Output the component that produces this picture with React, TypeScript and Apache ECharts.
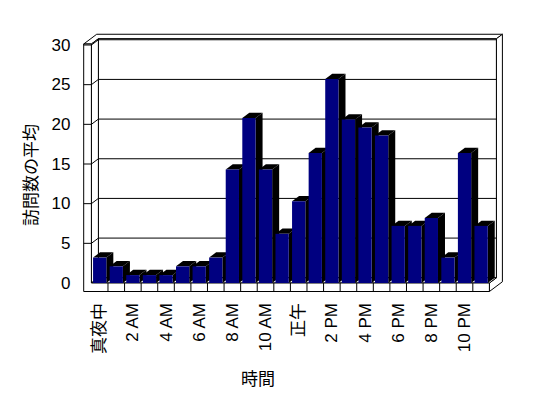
import React, { useEffect, useRef } from "react";
import * as echarts from "echarts";

const categories = [
  "真夜中", "1 AM", "2 AM", "3 AM", "4 AM", "5 AM", "6 AM", "7 AM",
  "8 AM", "9 AM", "10 AM", "11 AM", "正午", "1 PM", "2 PM", "3 PM",
  "4 PM", "5 PM", "6 PM", "7 PM", "8 PM", "9 PM", "10 PM", "11 PM",
];
const visits = [
  3.2, 2.1, 1.0, 1.0, 1.0, 2.1, 2.1, 3.2, 14.3, 20.8, 14.3, 6.2,
  10.3, 16.4, 25.7, 20.6, 19.6, 18.6, 7.2, 7.2, 8.2, 3.2, 16.4, 7.2,
];
const yTicks = [0, 5, 10, 15, 20, 25, 30];
const yTitle = "訪問数の平均";
const xTitle = "時間";

const KX = 1;
const KY = 0.75;
const ZB = 7;
const ZO = 13;
const P = (x: number, y: number, z: number) => [x + z * KX, y - z * KY];

export default function App() {
  const ref = useRef<HTMLDivElement>(null);
  useEffect(() => {
    document.body.style.margin = "0";
    document.body.style.overflow = "hidden";
    const chart = echarts.init(ref.current!, undefined, { renderer: "svg" });
    const line = { stroke: "#000", lineWidth: 1, fill: "#fff" };
    const option: any = {
      animation: false,
      backgroundColor: "#fff",
      grid: { left: 91.4, right: 58.6, top: 45, bottom: 115 },
      xAxis: {
        type: "category",
        data: categories,
        axisLine: { show: false },
        axisTick: { show: false },
        splitLine: { show: false },
        axisLabel: {
          interval: 1,
          rotate: 90,
          margin: 20,
          color: "#000",
          fontSize: 17,
          fontFamily: "'Liberation Sans', 'Noto Sans CJK JP', sans-serif",
        },
      },
      yAxis: {
        type: "value",
        min: 0,
        max: 30,
        interval: 5,
        axisLine: { show: false },
        axisTick: { show: false },
        splitLine: { show: false },
        axisLabel: {
          margin: 21,
          color: "#000",
          fontSize: 17,
          fontFamily: "'Liberation Sans', sans-serif",
        },
      },
      graphic: [
        {
          type: "text",
          x: 29,
          y: 175,
          rotation: Math.PI / 2,
          style: {
            text: yTitle,
            fontSize: 17,
            fontFamily: "'Noto Sans CJK JP', sans-serif",
            fill: "#000",
            align: "center",
            verticalAlign: "middle",
          },
        },
        {
          type: "text",
          x: 258,
          y: 377,
          style: {
            text: xTitle,
            fontSize: 17,
            fontFamily: "'Noto Sans CJK JP', sans-serif",
            fill: "#000",
            align: "center",
            verticalAlign: "middle",
          },
        },
      ],
      series: [
        {
          type: "custom",
          z: 1,
          clip: false,
          silent: true,
          data: [[0, 0]],
          encode: { x: 0, y: 1 },
          renderItem: (params: any, api: any) => {
            const band = api.size([1, 0])[0];
            const c0 = api.coord([0, 0]);
            const cN = api.coord([categories.length - 1, 0]);
            const x0 = c0[0] - band / 2;
            const x1 = cN[0] + band / 2;
            const y0 = c0[1];
            const y30 = api.coord([0, 30])[1];
            const xL = x0 - 7.7;
            const yTop = y30 - 1;
            const yBot = y0 + 8.5;
            const children: any[] = [];
            children.push({
              type: "polygon",
              shape: { points: [P(xL, yTop, 0), P(x0, yTop, 0), P(x0, yTop, ZB), P(x1, yTop, ZB), P(x1, yTop, ZO), P(xL, yTop, ZO)] },
              style: line,
            });
            children.push({
              type: "polygon",
              shape: { points: [P(x1, yTop, ZB), P(x1, yTop, ZO), P(x1, yBot, ZO), P(x1, yBot, 0), P(x1, y0, 0), P(x1, y0, ZB)] },
              style: line,
            });
            children.push({
              type: "polygon",
              shape: { points: [P(x0, yTop, ZB), P(x1, yTop, ZB), P(x1, y0, ZB), P(x0, y0, ZB)] },
              style: line,
            });
            children.push({
              type: "polygon",
              shape: { points: [P(x0, yTop, 0), P(x0, yTop, ZB), P(x0, y0, ZB), P(x0, y0, 0)] },
              style: line,
            });
            children.push({
              type: "polygon",
              shape: { points: [P(x0, y0, 0), P(x1, y0, 0), P(x1, y0, ZB), P(x0, y0, ZB)] },
              style: line,
            });
            children.push({
              type: "polygon",
              shape: { points: [[xL, yTop], [x0, yTop], [x0, y0], [x1, y0], [x1, yBot], [xL, yBot]] },
              style: line,
            });
            yTicks.forEach((v) => {
              const y = api.coord([0, v])[1];
              if (v > 0) {
                children.push({ type: "line", shape: { x1: xL, y1: y, x2: x0, y2: y }, style: { stroke: "#000", lineWidth: 1 } });
                children.push({
                  type: "polyline",
                  shape: { points: [P(x0, y, 0), P(x0, y, ZB), P(x1, y, ZB)] },
                  style: { stroke: "#000", lineWidth: 1, fill: null },
                });
              }
            });
            for (let i = 1; i < categories.length; i++) {
              const x = x0 + band * i;
              children.push({ type: "line", shape: { x1: x, y1: y0, x2: x, y2: yBot }, style: { stroke: "#000", lineWidth: 1 } });
            }
            return { type: "group", children };
          },
        },
        {
          type: "custom",
          z: 2,
          clip: false,
          silent: true,
          data: visits.map((v, i) => [i, v]),
          encode: { x: 0, y: 1 },
          renderItem: (params: any, api: any) => {
            const i = api.value(0);
            const v = api.value(1);
            const top = api.coord([i, v]);
            const base = api.coord([i, 0]);
            const band = api.size([1, 0])[0];
            const w = band * 0.8;
            const xl = top[0] - w / 2;
            const xr = top[0] + w / 2;
            const yt = top[1];
            const yb = base[1];
            return {
              type: "group",
              children: [
                {
                  type: "polygon",
                  shape: { points: [P(xr, yt, 0), P(xr, yt, ZB), P(xr, yb, ZB), P(xr, yb, 0)] },
                  style: { fill: "#000" },
                },
                {
                  type: "polygon",
                  shape: { points: [P(xl, yt, 0), P(xl, yt, ZB), P(xr, yt, ZB), P(xr, yt, 0)] },
                  style: { fill: "#000" },
                },
                {
                  type: "rect",
                  shape: { x: xl, y: yt, width: w, height: yb - yt },
                  style: { fill: "#000080" },
                },
              ],
            };
          },
        },
      ],
    };
    chart.setOption(option);
    return () => chart.dispose();
  }, []);
  return <div ref={ref} style={{ width: 548, height: 398 }} />;
}
